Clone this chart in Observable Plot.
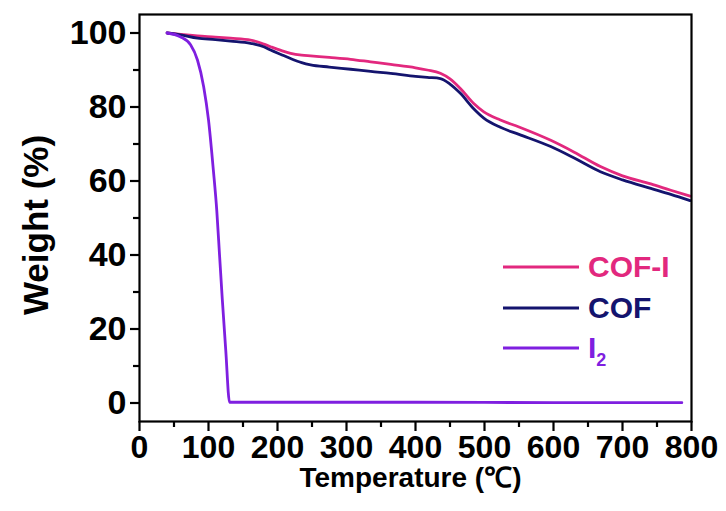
<!DOCTYPE html>
<html>
<head>
<meta charset="utf-8">
<script src="https://cdn.jsdelivr.net/npm/d3@7"></script>
<script src="https://cdn.jsdelivr.net/npm/@observablehq/plot@0.6"></script>
<style>
  html, body { margin: 0; padding: 0; background: #fff; }
  #wrap { position: relative; width: 726px; height: 511px; font-family: "Liberation Sans", Arial, sans-serif; font-weight: bold; }
  #legend { position: absolute; left: 503px; top: 247px; }
  .row { display: flex; align-items: center; height: 40.5px; }
  .row svg { display: block; }
  .row span { font-size: 30px; margin-left: 9px; line-height: 1; }
  .row sub { font-size: 18px; vertical-align: -0.45em; line-height: 0; }
</style>
</head>
<body>
<div id="wrap"></div>
<script>
// Series names and colours
const seriesNames = ["COF-I", "COF", "I2"];
const seriesColors = ["#e2287e", "#14146e", "#7f1fe0"];

// COF-I (temperature °C, weight %)
const cofiT = [40, 60, 84, 110, 132, 161, 180, 190, 205, 219, 235, 248, 275, 306, 335, 364, 400, 417, 436, 450, 465, 484, 499, 523, 550, 596, 630, 668, 700, 741, 770, 798];
const cofiW = [100, 99.6, 99.2, 98.9, 98.6, 98.1, 97.0, 96.3, 95.3, 94.5, 94.0, 93.8, 93.4, 92.9, 92.2, 91.5, 90.6, 90.0, 89.1, 87.6, 85.0, 81.0, 78.7, 76.5, 74.6, 71.0, 67.8, 63.9, 61.4, 59.2, 57.5, 55.9];

// COF
const cofT = [40, 59, 84, 110, 132, 161, 180, 190, 205, 219, 235, 248, 275, 306, 335, 364, 400, 417, 436, 450, 465, 484, 499, 523, 550, 596, 630, 668, 700, 741, 770, 798];
const cofW = [100, 99.5, 98.6, 98.2, 97.8, 97.2, 96.3, 95.4, 94.2, 93.1, 92.0, 91.4, 90.8, 90.2, 89.6, 89.1, 88.3, 88.0, 87.7, 86.2, 83.7, 79.6, 77.0, 74.5, 72.6, 69.3, 66.2, 62.5, 60.3, 58.0, 56.4, 54.7];

// I2
const i2T = [40, 59, 74, 84, 93, 100, 107, 112, 116, 120, 125, 130.5, 200, 400, 600, 786];
const i2W = [100, 99.0, 96.8, 92.7, 85.5, 76.5, 63.0, 52.0, 40.0, 28.0, 14.3, 0.2, 0.2, 0.2, 0.1, 0.1];

// Ticks and titles
const xTicks = [0, 100, 200, 300, 400, 500, 600, 700, 800];
const xMinor = [50, 150, 250, 350, 450, 550, 650, 750];
const yTicks = [0, 20, 40, 60, 80, 100];
const yMinor = [10, 30, 50, 70, 90];
const xTitle = "Temperature (℃)";
const yTitle = "Weight (%)";

const rows = [];
[[cofiT, cofiW], [cofT, cofW], [i2T, i2W]].forEach(([ts, ws], k) => {
  ts.forEach((t, i) => rows.push({series: seriesNames[k], t, w: ws[i]}));
});

const plot = Plot.plot({
  width: 726,
  height: 511,
  marginLeft: 139,
  marginRight: 35,
  marginTop: 14,
  marginBottom: 90,
  style: { fontFamily: "'Liberation Sans', Arial, sans-serif", fontWeight: "bold", color: "#000", background: "#fff" },
  x: { domain: [0, 800] },
  y: { domain: [-5, 105] },
  color: { domain: seriesNames, range: seriesColors },
  marks: [
    Plot.line(rows, { x: "t", y: "w", z: "series", stroke: "series", strokeWidth: 2.8, curve: "monotone-x" }),
    Plot.frame({ stroke: "#000", strokeWidth: 2.2 }),
    Plot.axisX({ ticks: xTicks, tickSize: 10, tickPadding: 4, fontSize: 32, label: null, strokeWidth: 2.2, tickFormat: d => String(d) }),
    Plot.axisX({ ticks: xMinor, tickSize: 6, text: null, label: null, strokeWidth: 2.2 }),
    Plot.axisY({ ticks: yTicks, tickSize: 9, tickPadding: 4, fontSize: 34, label: null, strokeWidth: 2.2, tickFormat: d => String(d) }),
    Plot.axisY({ ticks: yMinor, tickSize: 6, text: null, label: null, strokeWidth: 2.2 }),
    Plot.text([xTitle], { text: d => d, frameAnchor: "bottom", textAnchor: "middle", lineAnchor: "middle", dx: -5, dy: 57, fontSize: 28, fontWeight: "bold", fill: "#000" }),
    Plot.text([yTitle], { text: d => d, frameAnchor: "left", textAnchor: "middle", lineAnchor: "middle", dx: -103, dy: 7, rotate: -90, fontSize: 35, fontWeight: "bold", fill: "#000" })
  ]
});

const wrap = document.getElementById("wrap");
wrap.appendChild(plot);

// Legend overlay
const legend = document.createElement("div");
legend.id = "legend";
seriesNames.forEach((name, k) => {
  const row = document.createElement("div");
  row.className = "row";
  row.innerHTML = `<svg width="76" height="4"><line x1="0" y1="2" x2="76" y2="2" stroke="${seriesColors[k]}" stroke-width="2.8"/></svg>` +
    `<span style="color:${seriesColors[k]}">${name === "I2" ? "I<sub>2</sub>" : name}</span>`;
  legend.appendChild(row);
});
wrap.appendChild(legend);
</script>
</body>
</html>
